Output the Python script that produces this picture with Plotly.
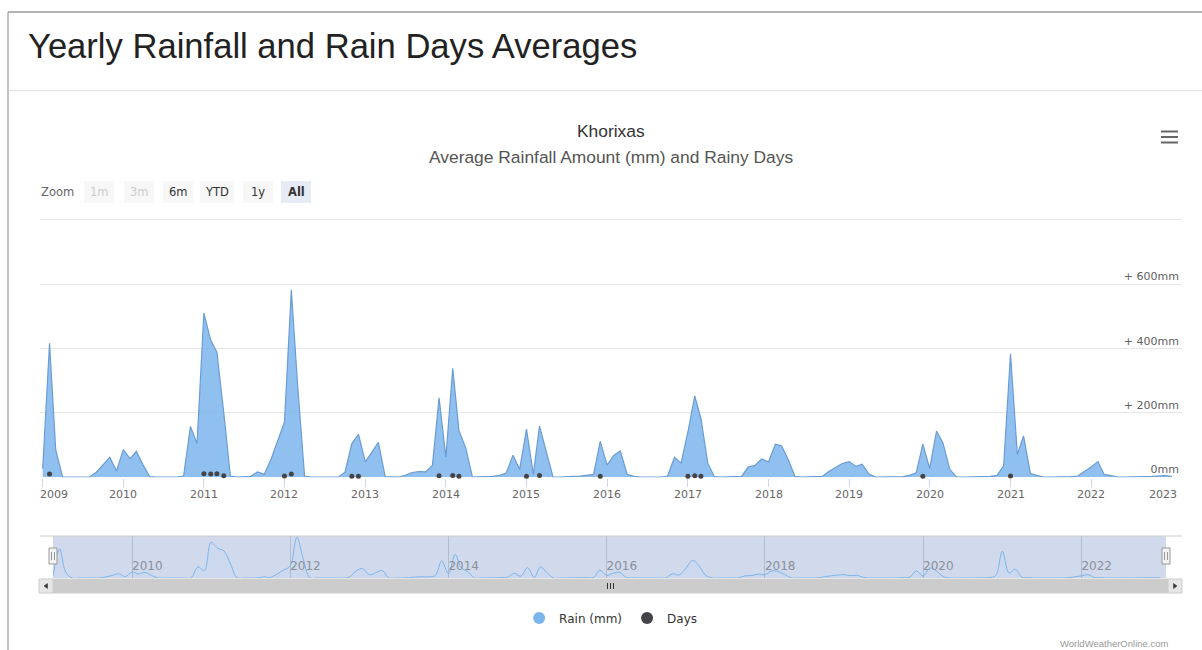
import plotly.graph_objects as go
import pandas as pd

# ---------------- data (monthly, Jan..Dec) ----------------
rain_2009 = [26, 416, 84, 0, 0, 0, 0, 0, 15, 36, 61, 19]
rain_2010 = [85, 57, 80, 37, 1, 0, 0, 0, 0, 3, 157, 104]
rain_2011 = [510, 425, 388, 200, 3, 0, 0, 2, 16, 8, 55, 112]
rain_2012 = [171, 582, 280, 3, 0, 0, 0, 0, 0, 15, 104, 133]
rain_2013 = [47, 78, 108, 1, 0, 0, 5, 14, 17, 16, 36, 246]
rain_2014 = [62, 338, 145, 90, 0, 0, 0, 2, 5, 12, 68, 24]
rain_2015 = [149, 8, 158, 73, 0, 0, 0, 2, 3, 5, 8, 111]
rain_2016 = [37, 68, 81, 8, 2, 0, 0, 0, 0, 3, 61, 43]
rain_2017 = [140, 252, 182, 43, 1, 0, 0, 0, 2, 31, 36, 56]
rain_2018 = [47, 102, 97, 53, 2, 0, 0, 0, 2, 17, 30, 42]
rain_2019 = [48, 33, 40, 9, 0, 0, 0, 0, 1, 5, 13, 102]
rain_2020 = [27, 143, 106, 24, 0, 0, 0, 0, 1, 2, 5, 35]
rain_2021 = [383, 70, 128, 11, 5, 0, 0, 0, 0, 1, 3, 16]
rain_2022 = [31, 48, 8, 4, 0, 0, 0, 0, 0, 2, 3, 4]
rain_2023 = [2]

days_2009 = [0, 9, 0, 0, 0, 0, 0, 0, 0, 0, 0, 0]
days_2010 = [0, 0, 0, 0, 0, 0, 0, 0, 0, 0, 0, 0]
days_2011 = [10, 9, 10, 4, 0, 0, 0, 0, 0, 0, 0, 0]
days_2012 = [3, 9, 0, 0, 0, 0, 0, 0, 0, 0, 2, 2]
days_2013 = [0, 0, 0, 0, 0, 0, 0, 0, 0, 0, 0, 4]
days_2014 = [0, 5, 2, 0, 0, 0, 0, 0, 0, 0, 0, 0]
days_2015 = [2, 0, 5, 0, 0, 0, 0, 0, 0, 0, 0, 2]
days_2016 = [0, 0, 0, 0, 0, 0, 0, 0, 0, 0, 0, 0]
days_2017 = [2, 4, 2, 0, 0, 0, 0, 0, 0, 0, 0, 0]
days_2018 = [0, 0, 0, 0, 0, 0, 0, 0, 0, 0, 0, 0]
days_2019 = [0, 0, 0, 0, 0, 0, 0, 0, 0, 0, 0, 2]
days_2020 = [0, 0, 0, 0, 0, 0, 0, 0, 0, 0, 0, 0]
days_2021 = [3, 0, 0, 0, 0, 0, 0, 0, 0, 0, 0, 0]
days_2022 = [0, 0, 0, 0, 0, 0, 0, 0, 0, 0, 0, 0]
days_2023 = [0]

years = list(range(2009, 2024))
y_tick_vals = [0, 200, 400, 600, 800]
y_tick_text = ["0mm", "+ 200mm", "+ 400mm", "+ 600mm", ""]
range_buttons = ["1m", "3m", "6m", "YTD", "1y", "All"]

title_text = "Yearly Rainfall and Rain Days Averages"
chart_title = "Khorixas"
chart_subtitle = "Average Rainfall Amount (mm) and Rainy Days"
series_names = ["Rain (mm)", "Days"]
credit_text = "WorldWeatherOnline.com"

rain = (rain_2009 + rain_2010 + rain_2011 + rain_2012 + rain_2013 + rain_2014 + rain_2015
        + rain_2016 + rain_2017 + rain_2018 + rain_2019 + rain_2020 + rain_2021 + rain_2022 + rain_2023)
days = (days_2009 + days_2010 + days_2011 + days_2012 + days_2013 + days_2014 + days_2015
        + days_2016 + days_2017 + days_2018 + days_2019 + days_2020 + days_2021 + days_2022 + days_2023)
months = pd.date_range("2009-01-01", periods=len(rain), freq="MS")

# ---------------- geometry helpers ----------------
W, H = 1202, 650


def px(x):
    return x / W


def py(y):
    return 1 - y / H


RAIN_BLUE = "#7cb5ec"
DAYS_DARK = "#434348"
FONT = "DejaVu Sans"

fig = go.Figure()

# main area series
fig.add_trace(go.Scatter(
    x=months, y=rain, mode="lines", fill="tozeroy",
    line=dict(color="#6a9cd4", width=1.2),
    fillcolor="rgba(124,181,236,0.85)",
    name=series_names[0], showlegend=False, xaxis="x", yaxis="y",
))

# days markers
d_x = [m for m, d in zip(months, days) if d > 0]
d_y = [d for d in days if d > 0]
fig.add_trace(go.Scatter(
    x=d_x, y=d_y, mode="markers",
    marker=dict(color=DAYS_DARK, size=5, symbol="circle"),
    name=series_names[1], showlegend=False, cliponaxis=False, xaxis="x", yaxis="y",
))

# navigator series
fig.add_trace(go.Scatter(
    x=months, y=rain, mode="lines", fill="tozeroy",
    line=dict(color=RAIN_BLUE, width=1, shape="spline", smoothing=1.0),
    fillcolor="rgba(124,181,236,0.06)",
    showlegend=False, xaxis="x2", yaxis="y2", hoverinfo="skip",
))

# legend entries
fig.add_trace(go.Scatter(x=[None], y=[None], mode="markers", name=series_names[0],
                         marker=dict(color=RAIN_BLUE, size=12, symbol="circle")))
fig.add_trace(go.Scatter(x=[None], y=[None], mode="markers", name=series_names[1],
                         marker=dict(color=DAYS_DARK, size=12, symbol="circle")))

# ---------------- axes ----------------
px_per_day = (1171.7 - 42.7) / (pd.Timestamp("2023-01-01") - pd.Timestamp("2009-01-01")).days
plot_l, plot_r = 40, 1182
x0 = pd.Timestamp("2009-01-01") - pd.Timedelta(days=(42.7 - plot_l) / px_per_day)
x1 = pd.Timestamp("2023-01-01") + pd.Timedelta(days=(plot_r - 1171.7) / px_per_day)

plot_top, plot_bot = 218, 477.5
mm_per_px = 200 / 64.3
y_lo = -(plot_bot - 477) * mm_per_px
y_hi = (477 - plot_top) * mm_per_px

nav_l, nav_r = 53, 1166
nav_px_per_day = (1081.4 - 132) / (pd.Timestamp("2022-01-01") - pd.Timestamp("2010-01-01")).days
n0 = pd.Timestamp("2010-01-01") - pd.Timedelta(days=(132 - nav_l) / nav_px_per_day)
n1 = pd.Timestamp("2022-01-01") + pd.Timedelta(days=(nav_r - 1081.4) / nav_px_per_day)
nav_top, nav_bot = 536, 578

fig.update_layout(
    width=W, height=H,
    margin=dict(l=0, r=0, t=0, b=0),
    paper_bgcolor="white", plot_bgcolor="rgba(0,0,0,0)",
    font=dict(family=FONT, size=11, color="#666666"),
    xaxis=dict(
        domain=[px(plot_l), px(plot_r)], range=[x0, x1], anchor="y",
        type="date", tick0="2009-01-01", dtick="M12",
        showticklabels=False, ticks="outside", ticklen=8, tickcolor="#ccd6eb",
        showgrid=False, showline=False, zeroline=False, fixedrange=True,
    ),
    yaxis=dict(
        domain=[py(plot_bot), py(plot_top)], range=[y_lo, y_hi], anchor="x",
        side="right", tickvals=y_tick_vals, ticktext=y_tick_text,
        ticklabelposition="inside top", ticks="",
        tickfont=dict(family=FONT, size=11, color="#606060"),
        showgrid=True, gridcolor="#e6e6e6", gridwidth=1, zeroline=False,
        showline=False, fixedrange=True,
    ),
    xaxis2=dict(
        domain=[px(nav_l), px(nav_r)], range=[n0, n1], anchor="y2",
        type="date", tick0="2010-01-01", dtick="M24", tickformat="%Y",
        ticklabelposition="inside right", ticks="",
        tickfont=dict(family=FONT, size=12, color="#8a8f99"),
        showgrid=True, gridcolor="rgba(140,150,175,0.45)", gridwidth=1,
        zeroline=False, showline=False, fixedrange=True,
    ),
    yaxis2=dict(
        domain=[py(nav_bot), py(nav_top)], range=[0, 600], anchor="x2",
        showticklabels=False, showgrid=False, zeroline=False, ticks="",
        fixedrange=True,
    ),
    legend=dict(
        orientation="h", x=0.508, xanchor="center", y=py(618), yanchor="middle",
        font=dict(family=FONT, size=12, color="#333333"),
        bgcolor="rgba(0,0,0,0)", itemclick=False, itemdoubleclick=False,
    ),
)

shapes = []
annotations = []

# card borders and header separator
shapes.append(dict(type="line", xref="paper", yref="paper", x0=px(8), x1=px(1202), y0=py(12), y1=py(12),
                   line=dict(color="#6b6b6b", width=1)))
shapes.append(dict(type="line", xref="paper", yref="paper", x0=px(8), x1=px(8), y0=py(12), y1=py(650),
                   line=dict(color="#8a8a8a", width=1)))
shapes.append(dict(type="line", xref="paper", yref="paper", x0=px(9), x1=px(1202), y0=py(90.5), y1=py(90.5),
                   line=dict(color="#e5e5e5", width=1.5)))

annotations.append(dict(text=title_text, xref="paper", yref="paper", x=px(26), y=py(46),
                        xanchor="left", yanchor="middle", showarrow=False,
                        font=dict(family="Liberation Sans", size=34.6, color="#222222")))
annotations.append(dict(text=chart_title, xref="paper", yref="paper", x=px(611), y=py(131),
                        xanchor="center", yanchor="middle", showarrow=False,
                        font=dict(family="Liberation Sans", size=17.4, color="#333333")))
annotations.append(dict(text=chart_subtitle, xref="paper", yref="paper", x=px(611), y=py(157),
                        xanchor="center", yanchor="middle", showarrow=False,
                        font=dict(family="Liberation Sans", size=17.4, color="#555555")))

# hamburger
for yy in (131.5, 137, 142.5):
    shapes.append(dict(type="line", xref="paper", yref="paper", x0=px(1161), x1=px(1178), y0=py(yy), y1=py(yy),
                       line=dict(color="#666666", width=2)))

# range selector
annotations.append(dict(text="Zoom", xref="paper", yref="paper", x=px(39), y=py(192),
                        xanchor="left", yanchor="middle", showarrow=False,
                        font=dict(family=FONT, size=11.5, color="#666666")))
btn_centers = [99, 139, 178, 217, 258, 296]
btn_widths = [30, 30, 30, 34, 30, 30]
btn_state = ["disabled", "disabled", "normal", "normal", "normal", "selected"]
for label, cx, bw, st in zip(range_buttons, btn_centers, btn_widths, btn_state):
    bg = "#e6ebf5" if st == "selected" else "#f7f7f7"
    col = "#cccccc" if st == "disabled" else "#333333"
    shapes.append(dict(type="rect", xref="paper", yref="paper", x0=px(cx - bw / 2), x1=px(cx + bw / 2),
                       y0=py(203), y1=py(181), fillcolor=bg, line=dict(width=0), layer="below"))
    annotations.append(dict(text=("<b>%s</b>" % label) if st == "selected" else label,
                            xref="paper", yref="paper", x=px(cx), y=py(192),
                            xanchor="center", yanchor="middle", showarrow=False,
                            font=dict(family=FONT, size=11.5, color=col)))

# main x year labels (axis scale positions)
for yv in years:
    shift = 0
    if yv == years[0]:
        shift = 11
    elif yv == years[-1]:
        shift = -9
    annotations.append(dict(text=str(yv), xref="x", yref="paper", x="%d-01-01" % yv, y=py(494),
                            xanchor="center", yanchor="middle", showarrow=False, xshift=shift,
                            font=dict(family=FONT, size=11, color="#666666")))

# navigator mask + outline + handles
shapes.append(dict(type="rect", xref="paper", yref="paper", x0=px(nav_l), x1=px(nav_r),
                   y0=py(nav_bot), y1=py(nav_top), fillcolor="rgba(102,133,194,0.3)",
                   line=dict(width=0), layer="below"))
shapes.append(dict(type="line", xref="paper", yref="paper", x0=px(40), x1=px(1182),
                   y0=py(nav_top), y1=py(nav_top), line=dict(color="#cccccc", width=1)))
for hx in (nav_l, nav_r):
    shapes.append(dict(type="rect", xref="paper", yref="paper", x0=px(hx - 4), x1=px(hx + 4),
                       y0=py(564), y1=py(548), fillcolor="#f2f2f2", line=dict(color="#999999", width=1)))
    for lx in (hx - 1.5, hx + 1.5):
        shapes.append(dict(type="line", xref="paper", yref="paper", x0=px(lx), x1=px(lx),
                           y0=py(552), y1=py(560), line=dict(color="#999999", width=1)))

# scrollbar
sb_top, sb_bot = 579, 593
shapes.append(dict(type="rect", xref="paper", yref="paper", x0=px(39), x1=px(1182),
                   y0=py(sb_bot), y1=py(sb_top), fillcolor="#f2f2f2", line=dict(width=0)))
shapes.append(dict(type="rect", xref="paper", yref="paper", x0=px(53), x1=px(1168),
                   y0=py(sb_bot), y1=py(sb_top), fillcolor="#cccccc", line=dict(color="#cccccc", width=1)))
for bx0, bx1 in ((39, 53), (1168, 1182)):
    shapes.append(dict(type="rect", xref="paper", yref="paper", x0=px(bx0), x1=px(bx1),
                       y0=py(sb_bot), y1=py(sb_top), fillcolor="#e6e6e6", line=dict(color="#cccccc", width=1)))


def path_px(points):
    s = "M %f %f" % (px(points[0][0]), py(points[0][1]))
    for (a, b) in points[1:]:
        s += " L %f %f" % (px(a), py(b))
    return s + " Z"


shapes.append(dict(type="path", xref="paper", yref="paper", path=path_px([(47.5, 583.5), (44, 586), (47.5, 588.5)]),
                   fillcolor="#333333", line=dict(color="#333333", width=0.5)))
shapes.append(dict(type="path", xref="paper", yref="paper", path=path_px([(1173.5, 583.5), (1177, 586), (1173.5, 588.5)]),
                   fillcolor="#333333", line=dict(color="#333333", width=0.5)))
for gx in (607.5, 610.5, 613.5):
    shapes.append(dict(type="line", xref="paper", yref="paper", x0=px(gx), x1=px(gx),
                       y0=py(583), y1=py(589), line=dict(color="#333333", width=1)))

# credit
annotations.append(dict(text=credit_text, xref="paper", yref="paper", x=px(1171), y=py(643),
                        xanchor="right", yanchor="middle", showarrow=False,
                        font=dict(family="Liberation Sans", size=9.5, color="#999999")))

fig.update_layout(shapes=shapes, annotations=annotations)
fig.write_html("out.html", config={"displayModeBar": False})
